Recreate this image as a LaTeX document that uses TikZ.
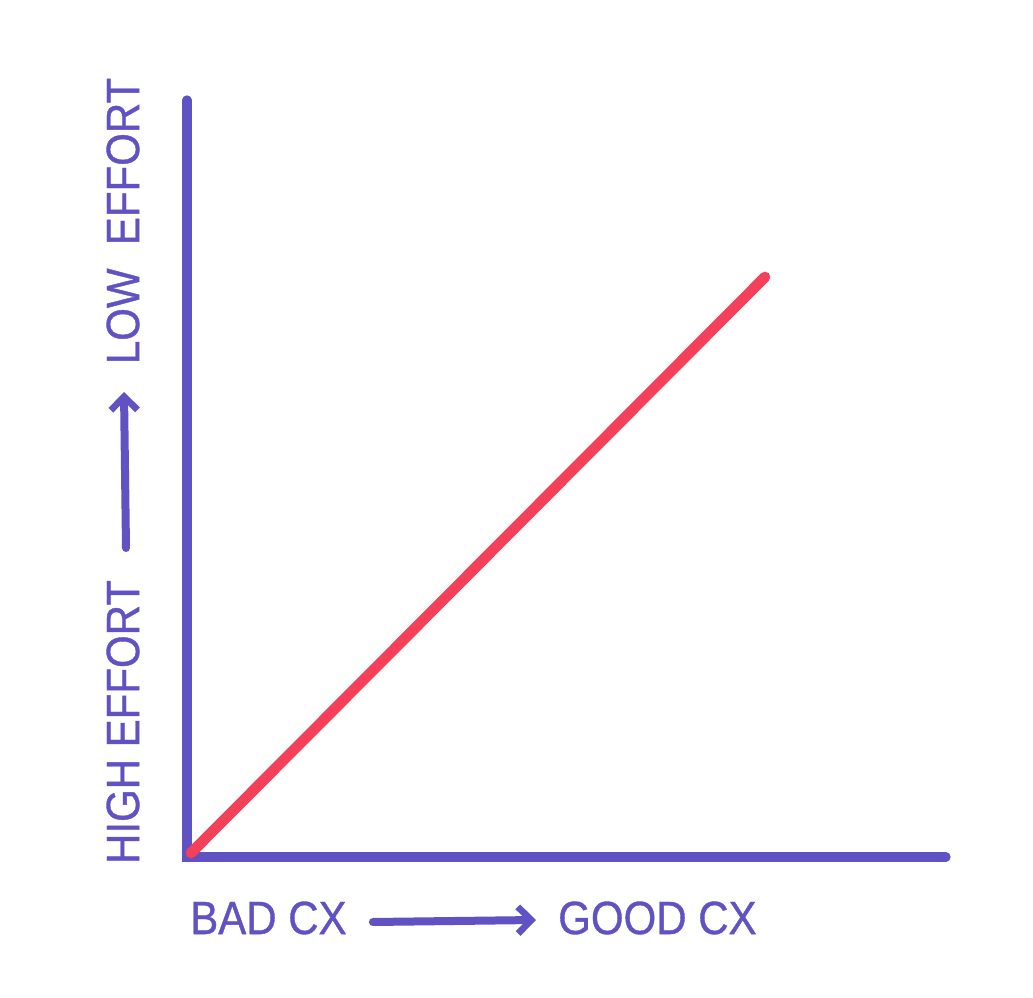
\documentclass[tikz,border=0pt]{standalone}
\usepackage{fontspec}
\setmainfont[FakeStretch=0.9, FakeBold=0.8]{Liberation Sans}
\usepackage{tikz}
\usetikzlibrary{arrows.meta,positioning,calc}
\definecolor{axispurple}{HTML}{6152C4}
\definecolor{trendred}{HTML}{F5405A}

\begin{document}
\begin{tikzpicture}[
                x=0.75pt, y=-0.75pt,
                axis/.style={draw=axispurple, line width=7pt, line cap=round},
                trend/.style={draw=trendred, line width=8pt, line cap=round},
                hint/.style={draw=axispurple, line width=6pt, line cap=round,
                        -{Straight Barb[length=10pt, width=20pt, line width=5pt]}},
                label/.style={text=axispurple, font=\fontsize{35}{40}\selectfont, inner sep=0pt},
            ]
            \useasboundingbox (0,0) rectangle (1033,998);

            % ── Axes ──────────────────────────────────────────────
            \coordinate (origin) at (187,857);
            \coordinate (ytop)   at (187,100);
            \coordinate (xend)   at (946,857);
            \draw[axis] (ytop) -- (origin) -- (xend);

            % ── Trend line ────────────────────────────────────────
            \coordinate (peak) at (765,277);
            \draw[trend] (origin) ++(4,-4) coordinate (start) -- (peak);

            % ── Vertical labels ───────────────────────────────────
            \node[label, rotate=90] (high) at (123,722) {HIGH EFFORT};
            \node[label, rotate=90] (low)  at (123,221) {LOW\ \ EFFORT};
            \coordinate (up0) at (126,548);
            \coordinate (up1) at (124,392);
            \draw[hint] (up0) -- (up1);

            % ── Horizontal labels ─────────────────────────────────
            \node[label, anchor=west] (bad)  at (190,918) {BAD CX};
            \node[label, anchor=west] (good) at (558,918) {GOOD CX};
            \draw[hint] ($(bad.east)+(26,4)$) -- ($(good.west)+(-22,2)$);
        \end{tikzpicture}
\end{document}
